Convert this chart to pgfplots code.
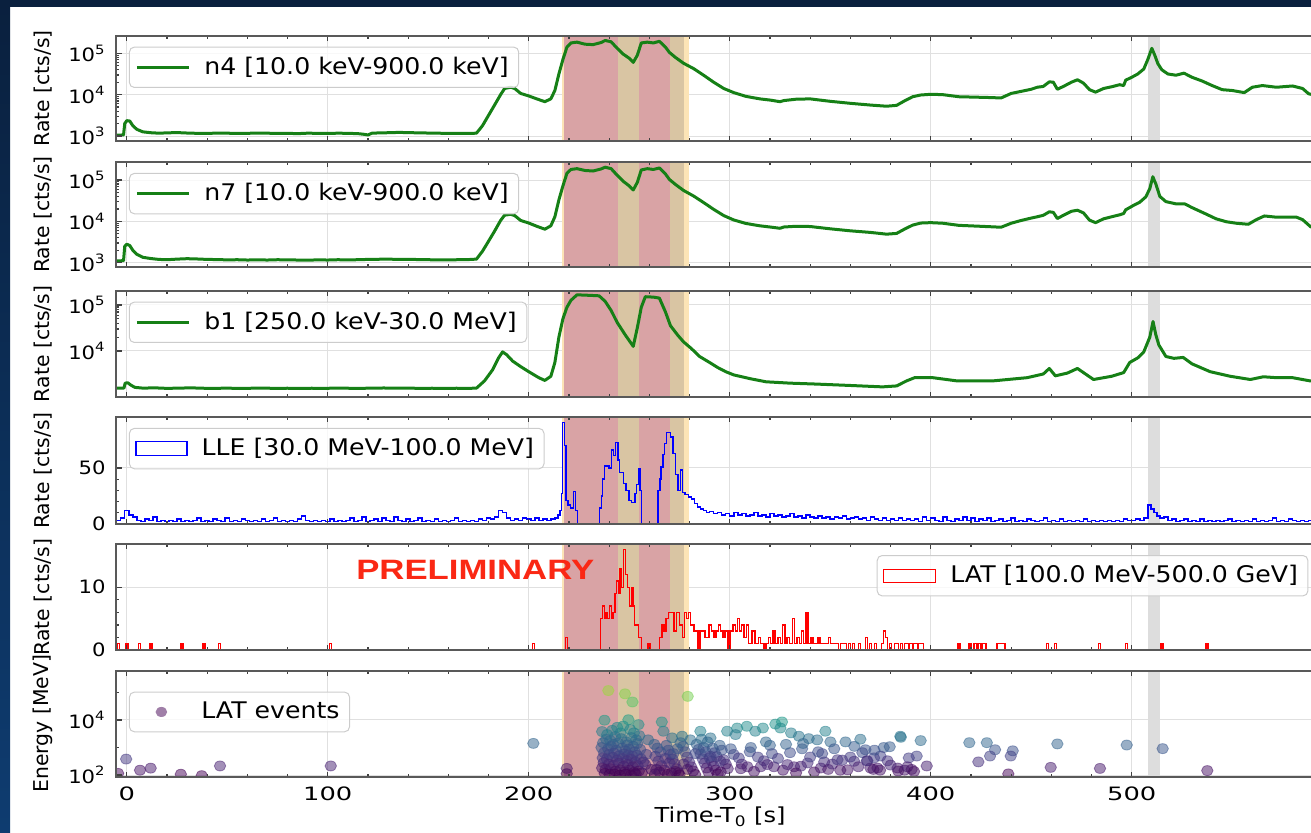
\documentclass[border=0pt]{standalone}
\usepackage{fontspec}
\setmainfont[FakeStretch=1.1]{DejaVu Sans}
\newfontfamily\ylabfont{DejaVu Sans}
\newfontfamily\xtfont[FakeStretch=1.4]{DejaVu Sans}
\newfontfamily\ytfont[FakeStretch=1.15]{DejaVu Sans}
\newfontfamily\xlabfont[FakeStretch=1.17]{DejaVu Sans}
\newfontfamily\prelimfont[FakeStretch=1.24]{Liberation Sans}
\usepackage{pgfplots}
\pgfplotsset{compat=1.18}

\definecolor{navytop}{RGB}{10,32,62}
\definecolor{navybot}{RGB}{14,60,112}
\definecolor{spanorange}{RGB}{252,228,182}
\definecolor{spantan}{RGB}{217,197,163}
\definecolor{spanred}{RGB}{217,163,165}
\definecolor{spangray}{RGB}{221,221,221}
\definecolor{gridc}{RGB}{224,224,224}
\definecolor{lcgreen}{RGB}{22,128,22}
\definecolor{prelim}{RGB}{250,40,20}
\definecolor{evpurple}{RGB}{68,1,84}

\newcommand\fxt{\xtfont\fontsize{9.2}{11}\selectfont}
\newcommand\fyt{\ytfont\fontsize{9.2}{11}\selectfont}
\newcommand\fl{\fontsize{11.45}{13.5}\selectfont}
\newcommand\fx{\xlabfont\fontsize{10.3}{12.3}\selectfont}
\newcommand\fy{\ylabfont\fontsize{10.2}{12}\selectfont}

% grid lines, drawn underneath the shaded intervals
\newcommand\xgrid{\pgfplotsinvokeforeach{0,100,200,300,400,500}{%
  \draw[gridc, line width=0.5pt] ({axis cs:##1,1}|-{rel axis cs:0,0}) -- ({axis cs:##1,1}|-{rel axis cs:0,1});}}
\newcommand\hgrid[1]{\pgfplotsinvokeforeach{#1}{%
  \draw[gridc, line width=0.5pt] ({rel axis cs:0,0}|-{axis cs:0,##1}) -- ({rel axis cs:1,0}|-{axis cs:0,##1});}}

% time intervals shaded in every panel
\newcommand\grbspans{%
  \fill[spanorange] ({axis cs:216.3,1}|-{rel axis cs:0,0}) rectangle ({axis cs:279.5,1}|-{rel axis cs:0,1});
  \fill[spantan] ({axis cs:217.5,1}|-{rel axis cs:0,0}) rectangle ({axis cs:277.3,1}|-{rel axis cs:0,1});
  \fill[spanred] ({axis cs:217.5,1}|-{rel axis cs:0,0}) rectangle ({axis cs:244.6,1}|-{rel axis cs:0,1});
  \fill[spanred] ({axis cs:255,1}|-{rel axis cs:0,0}) rectangle ({axis cs:270.3,1}|-{rel axis cs:0,1});
  \fill[spangray] ({axis cs:508.2,1}|-{rel axis cs:0,0}) rectangle ({axis cs:514.3,1}|-{rel axis cs:0,1});
}

\pgfplotsset{
  panel/.style={
    axis on top,
    scale only axis, width=608.2pt,
    xmin=-5.2, xmax=600,
    xtick={0,100,200,300,400,500},
    minor x tick num=4,
    xticklabels={},
    tick align=inside,
    major tick length=2.6pt, minor tick length=1.5pt,
    tick style={black!75, line width=0.6pt},
    axis line style={black!65, line width=0.9pt},
    ylabel={Rate [cts/s]},
    every axis y label/.style={at={(rel axis cs:0,0.5)}, anchor=center, rotate=90, yshift=36.65pt, font=\fy, inner sep=0pt},
    xticklabel style={font=\fxt, yshift=-1.5pt},
    yticklabel style={font=\fyt, xshift=-1.8pt},
    /pgf/number format/assume math mode=true,
    legend cell align=left,
    legend style={at={(0,1)}, anchor=north west, xshift=6.3pt, yshift=-5.3pt, font=\fl,
      draw=black!20, line width=0.5pt, rounded corners=2.5pt, fill=white, fill opacity=0.8, text opacity=1,
      inner xsep=3pt, inner ysep=3pt, /tikz/every odd column/.append style={column sep=5pt}},
    clip marker paths=true,
  },
  lcline/.style={lcgreen, line width=1.5pt, line join=round,
    legend image code/.code={\draw[lcgreen, line width=1.5pt, sharp corners] (0pt,0pt) -- (26pt,0pt);}},
}

\begin{document}
\begin{tikzpicture}
\shade[top color=navytop, bottom color=navybot] (0,0) rectangle (5pt,416pt);
\fill[navytop] (0,412.3pt) rectangle (655.5pt,416pt);

% ---------------- n4 ----------------
\begin{axis}[panel, at={(58.15pt,345.65pt)}, anchor=south west, height=52.35pt,
  ymode=log, ymin=770, ymax=2.62e5, ytick={1e3,1e4,1e5},
  yticklabels={10\textsuperscript{3},10\textsuperscript{4},10\textsuperscript{5}}]
\xgrid \hgrid{1e3,1e4,1e5}
\grbspans
\addplot[lcline] coordinates {
(-5.2,1050) (-1.6,1060) (-1.0,2000) (0,2350) (1.5,2300) (3,1780) (5,1450) (8,1260) (12,1200) (16,1170) (20,1190) (25,1210) (30,1180) (35,1160) (40,1150) (45,1180) (50,1170) (55,1150) (60,1160) (65,1180) (70,1170) (75,1150) (80,1160) (85,1140) (90,1170) (95,1160) (100,1150) (105,1170) (110,1160) (115,1140) (118,1100) (120,1060) (122,1170) (126,1190) (130,1200) (135,1220) (140,1210) (145,1190) (150,1180) (155,1170) (160,1150) (165,1160) (170,1150) (174,1170) (177,1780) (180,3160) (183,5600) (186,10000) (188,14100) (191,15100) (193,14100) (196,10700) (200,9300) (204,7900) (208,6760) (211,7900) (213,12600) (215,31600) (217,70800) (219,141000) (221,178000) (224,186000) (228,166000) (232,162000) (236,182000) (238,204000) (241,190000) (244,132000) (247,95500) (250,75900) (252,60300) (254,89100) (256,178000) (259,186000) (262,178000) (265,195000) (268,141000) (270,105000) (273,79400) (277,57500) (282,42700) (287,29500) (292,20000) (297,14100) (302,11200) (308,9100) (315,7900) (320,7400) (325,6760) (327,7200) (333,7760) (340,7900) (350,6900) (360,6170) (370,5600) (378,5250) (383,5500) (387,7080) (391,8900) (395,9800) (400,10200) (406,10000) (414,8900) (422,8700) (430,8500) (435,8300) (440,10700) (445,12000) (450,13500) (453,15100) (456,15800) (459,20400) (461,20000) (463,13500) (466,15800) (470,20000) (473,22900) (476,19000) (479,13200) (482,11500) (486,14100) (490,15500) (494,17400) (496,16600) (497,22400) (500,26300) (503,31600) (506,41700) (508,70800) (510,132000) (511.5,89100) (513,56200) (515,39800) (518,31600) (522,29500) (526,33100) (530,26300) (535,21400) (540,16600) (545,13200) (550,12600) (556,11200) (560,15100) (565,16600) (572,15100) (580,16200) (585,14100) (588,10500) (592,9500) (600,9300)
};
\addlegendentry{n4 [10.0 keV-900.0 keV]}
\end{axis}

% ---------------- n7 ----------------
\begin{axis}[panel, at={(58.15pt,282.65pt)}, anchor=south west, height=52.2pt,
  ymode=log, ymin=800, ymax=2.68e5, ytick={1e3,1e4,1e5},
  yticklabels={10\textsuperscript{3},10\textsuperscript{4},10\textsuperscript{5}}]
\xgrid \hgrid{1e3,1e4,1e5}
\grbspans
\addplot[lcline] coordinates {
(-5.2,1100) (-1.6,1120) (-1.0,2500) (0,2800) (1.5,2600) (3,2000) (5,1600) (8,1350) (12,1260) (16,1200) (20,1180) (25,1220) (30,1250) (35,1230) (40,1200) (45,1190) (50,1170) (55,1180) (60,1160) (65,1170) (70,1160) (75,1180) (80,1170) (85,1160) (90,1150) (95,1170) (100,1160) (105,1180) (110,1170) (115,1180) (120,1200) (125,1210) (130,1220) (135,1200) (140,1210) (145,1190) (150,1180) (155,1170) (160,1170) (165,1180) (170,1190) (174,1220) (177,1900) (180,3300) (183,5800) (186,10500) (188,14100) (191,14800) (193,13800) (196,10500) (200,9100) (204,7600) (208,6460) (211,7800) (213,12900) (215,33000) (217,72000) (219,145000) (221,180000) (224,188000) (228,170000) (232,165000) (236,185000) (238,204000) (241,188000) (244,130000) (247,93000) (250,72000) (252,57500) (254,87000) (256,175000) (259,188000) (262,180000) (265,195000) (268,140000) (270,103000) (273,78000) (277,56000) (282,41000) (287,28500) (292,19500) (297,13800) (302,10800) (308,8900) (315,7800) (320,7300) (325,6800) (327,7300) (333,7600) (340,7500) (350,6600) (360,5900) (370,5400) (378,4900) (383,5100) (387,6500) (391,8100) (395,9100) (400,9300) (406,9000) (414,8000) (422,7700) (430,7400) (435,7200) (440,9000) (445,10500) (450,12000) (453,12900) (456,14000) (459,17000) (461,16500) (463,11700) (466,14000) (470,17500) (473,18600) (476,16000) (479,10700) (482,9300) (486,11500) (490,12900) (494,14400) (496,15500) (497,19000) (501,24500) (504,29000) (507,39000) (509,62000) (510.5,120000) (512,80000) (514,40000) (517,30000) (522,26500) (526.5,26300) (530,21500) (537,15000) (542,11500) (547,9800) (552,9000) (558,8500) (562,11000) (566,13500) (572,12600) (582,12600) (585,11000) (589,7400) (594,7000) (600,6800)
};
\addlegendentry{n7 [10.0 keV-900.0 keV]}
\end{axis}

% ---------------- b1 ----------------
\begin{axis}[panel, at={(58.15pt,217.65pt)}, anchor=south west, height=52.85pt,
  ymode=log, ymin=1015, ymax=2.01e5, ytick={1e4,1e5},
  yticklabels={10\textsuperscript{4},10\textsuperscript{5}}]
\xgrid \hgrid{1e4,1e5}
\grbspans
\addplot[lcline] coordinates {
(-5.2,1550) (-1.4,1560) (-0.8,2000) (0.5,2040) (2,1820) (4,1620) (8,1560) (14,1580) (20,1540) (26,1560) (32,1580) (38,1550) (44,1540) (50,1560) (56,1530) (62,1550) (68,1560) (74,1540) (80,1550) (86,1530) (92,1550) (98,1540) (104,1560) (110,1550) (116,1540) (122,1560) (128,1570) (134,1550) (140,1560) (146,1540) (152,1550) (158,1530) (164,1550) (170,1540) (174,1560) (178,2240) (182,3890) (185,7080) (187,9550) (189,8300) (192,6030) (196,4570) (200,3550) (205,2630) (208,2290) (211,2820) (213,5620) (215,20000) (217,50100) (219,89100) (221,126000) (224,166000) (230,162000) (235,158000) (238,120000) (241,75900) (244,41700) (248,22400) (252,12600) (254,31600) (256,89100) (258,151000) (262,148000) (265,141000) (268,70800) (270.5,35500) (274,22400) (277,15800) (281,11200) (285,7590) (290,5620) (294,4370) (298,3550) (302,3020) (310,2510) (318,2140) (330,2000) (343,1910) (360,1780) (376,1660) (383,1740) (388,2240) (392,2630) (401,2630) (413,2240) (431,2240) (448,2630) (456,3160) (459,4170) (462,2880) (468,3310) (473,4170) (477,3160) (481,2400) (490,2820) (496,3390) (499,5620) (503,7080) (506,9550) (509,20000) (510.6,43700) (512,22400) (513.5,13500) (517,7590) (521,6920) (525.6,7240) (530,5250) (539,3550) (549,2820) (559,2400) (565.5,2750) (572,2630) (580,2630) (588.7,2240) (600,2140)
};
\addlegendentry{b1 [250.0 keV-30.0 MeV]}
\end{axis}

% ---------------- LLE ----------------
\begin{axis}[panel, at={(58.15pt,154.15pt)}, anchor=south west, height=53.2pt,
  ymin=0, ymax=95.5, ytick={0,50}, minor y tick num=4]
\xgrid \hgrid{50}
\grbspans
\addplot[blue, line width=0.75pt, const plot mark left,
  legend image code/.code={\draw[blue, line width=0.6pt, sharp corners] (0pt,-3.4pt) rectangle (25.5pt,3.4pt);}] coordinates {
(-5.2,3) (-3,5) (-1,12) (1,8) (3,6) (5,3) (7,2) (9,4) (11,3) (13,6) (15,2) (17,3) (19,2) (21,3) (23,2) (25,4) (27,2) (29,3) (31,2) (33,3) (35,5) (37,2) (39,3) (41,2) (43,4) (45,3) (47,2) (49,5) (51,2) (53,3) (55,2) (57,4) (59,3) (61,2) (63,3) (65,2) (67,4) (69,2) (71,3) (73,5) (75,2) (77,3) (79,2) (81,3) (83,2) (85,4) (87,7) (89,3) (91,2) (93,3) (95,2) (97,3) (99,2) (101,4) (103,2) (105,3) (107,2) (109,3) (111,5) (113,2) (115,3) (117,6) (119,2) (121,3) (123,4) (125,2) (127,5) (129,3) (131,2) (133,6) (135,3) (137,2) (139,4) (141,2) (143,3) (145,5) (147,2) (149,3) (151,2) (153,4) (155,2) (157,3) (159,2) (161,3) (163,5) (165,2) (167,3) (169,2) (171,3) (173,2) (175,4) (177,3) (179,5) (181,4) (183,6) (185,12) (187,10) (189,5) (191,3) (193,4) (195,3) (197,5) (199,4) (201,3) (203,5) (205,3) (207,4) (209,3) (211,4) (213,5) (214.5,8) (215.5,12) (216.2,27) (216.8,91) (217.8,70) (218.6,21) (219.5,17) (220.8,14) (222.3,29) (223.3,12) (224.2,0) (235.2,14) (236.2,25) (236.8,40) (237.6,52) (240,50) (241.2,66) (242.2,61) (243.2,73) (244.3,57) (245.2,46) (247.2,36) (248.5,30) (249.8,21) (251.2,19) (252.8,27) (253.6,35) (254.5,49) (255.4,30) (256.2,0) (264.4,30) (265.2,40) (265.8,51) (266.8,62) (267.5,72) (268.6,82) (270.5,78) (271.8,63) (273,44) (274.3,30) (275.6,48) (276.6,28) (277.8,26) (279.5,24) (281,22) (282.5,18) (284,15) (285.5,13) (287,12) (288.5,10) (290,11) (292,9) (294,10) (296,8) (298,9) (300,7) (302,10) (304,8) (306,9) (308,7) (310,8) (312,10) (314,7) (316,8) (318,6) (320,9) (322,7) (324,8) (326,6) (328,7) (330,9) (332,6) (334,7) (336,5) (338,8) (340,6) (342,5) (344,7) (346,5) (348,6) (350,4) (352,6) (354,5) (356,7) (358,4) (360,5) (362,6) (364,4) (366,5) (368,3) (370,6) (372,4) (374,3) (376,5) (378,3) (380,4) (382,3) (384,5) (386,3) (388,4) (390,3) (392,4) (394,2) (396,6) (398,3) (400,5) (402,3) (404,2) (406,6) (408,3) (410,2) (412,4) (414,3) (416,6) (418,3) (420,5) (422,2) (424,4) (426,3) (428,5) (430,2) (432,3) (434,4) (436,2) (438,3) (440,5) (442,2) (444,3) (446,2) (448,4) (450,3) (452,2) (454,3) (456,5) (458,2) (460,3) (462,2) (464,4) (466,2) (468,3) (470,2) (472,3) (474,2) (476,4) (478,2) (480,3) (482,2) (484,3) (486,2) (488,3) (490,2) (492,3) (494,2) (496,4) (498,3) (500,3) (502,4) (504,3) (506,5) (508,17) (509.5,13) (511,10) (512.5,7) (514,5) (516,6) (518,3) (520,4) (522,2) (524,3) (526,4) (528,2) (530,3) (532,2) (534,4) (536,2) (538,3) (540,2) (542,3) (544,2) (546,3) (548,4) (550,2) (552,3) (554,2) (556,3) (558,2) (560,4) (562,2) (564,3) (566,2) (568,3) (570,5) (572,2) (574,3) (576,2) (578,4) (580,3) (582,2) (584,3) (586,2) (588,3) (590,2) (592,3) (594,2) (596,3) (598,2) (600,2)
};
\addlegendentry{LLE [30.0 MeV-100.0 MeV]}
\end{axis}

% ---------------- LAT rate ----------------
\begin{axis}[panel, at={(58.15pt,91pt)}, anchor=south west, height=53pt,
  ymin=0, ymax=16.9, ytick={0,10}, minor y tick num=4,
  legend style={xshift=373.9pt, yshift=-0.2pt}]
\xgrid \hgrid{10}
\grbspans
\addplot[red, line width=0.7pt, const plot mark left,
  legend image code/.code={\draw[red, line width=0.6pt, sharp corners] (0pt,-3.3pt) rectangle (26pt,3.3pt);}] coordinates {
(-5.2,0) (-4.6,1) (-3.6,0) (-0.4,1) (0.6,0) (5.8,1) (6.8,0) (11.6,1) (12.6,0) (26.9,1) (27.9,0) (38,1) (39,0) (45.5,1) (46.5,0) (100.8,1) (101.8,0) (201.8,1) (202.8,0) (218.4,2) (219.4,0) (235.8,5) (236.8,7) (237.6,5) (238.4,6) (239.2,5) (240.2,7) (241.2,5) (242,6) (243,9) (243.8,11) (244.6,9) (245.4,13) (246.2,10) (247,16) (248,12) (249,10) (250.2,7) (251,10) (251.8,7) (252.6,4) (254.5,2) (256.2,0) (259.4,1) (260.4,0) (265.2,2) (266.2,4) (267.2,3) (268.2,5) (269.6,6) (272.2,3) (273.6,6) (275,4) (276.5,2) (277.5,6) (278.6,5) (279.6,6) (280.6,4) (282.2,3) (284.2,0) (285.2,3) (287.6,2) (289.6,4) (291,3) (292.2,2) (293.2,3) (294.4,4) (295.4,3) (296.6,2) (297.6,3) (299.2,0) (300.2,3) (301.6,4) (302.8,3) (303.8,5) (304.8,3) (305.8,4) (307,2) (308.2,4) (309.2,1) (311,3) (312.6,1) (314.2,2) (315.2,1) (317,0) (318,1) (319.2,2) (320.4,1) (321.6,3) (322.6,1) (324,2) (325.2,1) (326.4,4) (327.4,1) (328.4,2) (329.8,1) (331.2,5) (332.2,1) (333.4,2) (334.6,1) (335.6,3) (336.6,1) (338,6) (339,1) (340.5,2) (341.5,1) (344,2) (345,1) (349,2) (350,1) (354,0) (355,1) (358,0) (359,1) (360,0) (361,1) (362,0) (364,1) (365,0) (367.5,2) (368.5,0) (369.5,1) (370.5,0) (372,1) (373,0) (375.5,1) (376.5,3) (377.5,2) (378.5,0) (379.5,1) (380.5,0) (382,1) (384,0) (385,1) (386,0) (387,1) (389,0) (389.5,1) (391,0) (391.5,1) (393.5,0) (394,1) (396.5,0) (413.5,1) (414.5,0) (419,1) (420,0) (421.5,1) (423,0) (423.5,1) (425,0) (425.5,1) (427.5,0) (433,1) (437,0) (457.5,1) (458.5,0) (461.5,1) (462.5,0) (483.5,1) (484.5,0) (497,1) (498,0) (514.5,1) (515.5,0) (537,1) (538,0) (600,0)
};
\addlegendentry{LAT [100.0 MeV-500.0 GeV]}
\node[text=prelim, font={\prelimfont\bfseries\fontsize{14}{16}\selectfont}, inner sep=0pt] at (axis cs:173.4,12.7) {PRELIMINARY};
\end{axis}

% ---------------- LAT events ----------------
\begin{axis}[panel, at={(58.15pt,27.65pt)}, anchor=south west, height=52.85pt,
  ymode=log, ymin=87, ymax=6e5, ytick={1e2,1e4}, minor ytick={1e3,1e5},
  yticklabels={10\textsuperscript{2},10\textsuperscript{4}},
  xticklabels={0,100,200,300,400,500},
  ylabel={Energy [MeV]},
  xlabel={Time-T\textsubscript{0} [s]},
  every axis x label/.style={at={(rel axis cs:0.4964,0)}, anchor=north, yshift=-15pt, font=\fx, inner sep=0pt},
  colormap/viridis, point meta min=4.605, point meta max=12.9,
  legend style={yshift=-5pt}]
\xgrid \hgrid{1e2,1e4}
\grbspans
\addplot[scatter, only marks, mark=*, mark size=2.5pt, point meta=y,
  scatter/use mapped color={draw=mapped color, fill=mapped color},
  mark options={fill opacity=0.5, draw opacity=0.5, line width=0.4pt, xscale=1.15},
  legend image code/.code={\path[draw=none] (0pt,-3pt) rectangle (26pt,3pt); \fill[evpurple, draw=none, opacity=0.5] (13pt,0pt) ellipse (2.9pt and 2.5pt);}] coordinates {
(-4.3,115) (-0.3,380) (6.6,150) (11.9,178) (26.9,107) (37.3,95) (46.4,214) (101.5,214) (202.3,1410) (218.9,174) (218.9,112)
(239.6,117000) (247.9,89000) (251.6,45000) (279.1,72000)
(237.7,9800) (249.6,10200) (254.6,6800) (244,5400) (239,2950) (245.6,3400) (252.3,3400) (241.5,4200) (247,6000) (250.5,4500) (236.5,3800) (243,2500) (255,2700) (238.5,2000) (240.5,1800) (246,2100) (248.5,1600) (251,2300) (253.5,1900) (237,1500) (242,1300) (244.5,1450) (249,1250) (252,1100) (254,1400) (236.2,1000) (239.5,900) (241,1100) (243.5,800) (246.5,950) (248,750) (250,880) (252.8,700) (255.5,850) (237.5,650) (240,560) (242.5,620) (245,500) (247.5,580) (249.5,530) (251.5,480) (253.8,520) (236.8,420) (238.8,380) (241.8,440) (244,350) (246.8,400) (248.8,330) (251,370) (253,300) (255.8,390) (237.3,280) (239.8,250) (242.2,230) (244.8,270) (247.2,210) (249.2,240) (251.8,200) (254.2,220) (236.5,180) (238.2,160) (240.8,170) (243.2,140) (245.5,155) (247.8,130) (250.2,150) (252.5,125) (254.8,140) (237.8,115) (240.2,105) (242.8,110) (245.2,100) (248.2,108) (250.8,102) (253.2,112) (256.3,120) (258,240) (259.4,1900) (258.5,560) (257,300)
(266.2,8500) (267,3900) (271.3,2240) (276.3,2570) (280.4,1900) (285.4,3900) (290.4,2240) (298.7,3900) (262.5,1300) (264,950) (265.5,700) (263,480) (264.5,320) (266,220) (267.5,150) (262.8,110) (268.5,1200) (269.5,800) (270.5,550) (271.5,380) (272.5,260) (273.5,170) (274.5,120) (268,400) (270,280) (272,600) (274,900) (275.5,1500) (276.8,1100) (277.8,700) (278.8,450) (279.8,300) (280.8,200) (281.8,140) (282.8,105) (277,250) (279,160) (283.5,1300) (284.5,850) (285.5,580) (286.5,390) (287.5,270) (288.5,180) (289.5,125) (283,600) (286,2000) (287,1000) (288,700) (289,1600) (290,420) (291,320) (292,210) (293,150) (294,110) (291.5,950) (292.5,650) (293.5,470) (295,1200) (296,800) (297,360) (298,250) (299,170) (295.5,130) (263.5,160) (265,130) (269,105) (271,118) (273,135) (275,102) (261,160)
(303.7,5100) (302.9,2950) (308.5,5900) (312.7,3900) (316.5,5100) (322.7,7100) (326,8500) (325.2,5100) (330.5,3400) (334.4,2570) (339.3,2100) (343.5,1900) (347.6,3900) (350.1,1600) (357.6,1600) (367.5,830) (376.6,1000) (384.9,2570) (389.1,420) (290.4,480) (295.4,316) (300.5,900) (302,560) (304.5,420) (306,250) (305.5,170) (308.8,200) (310,700) (312.1,135) (314,450) (315.4,200) (317,330) (318.7,240) (320,1200) (321,600) (322,200) (324,400) (326.5,150) (328.7,240) (330,650) (332,200) (333,120) (335.4,210) (336,900) (338.7,275) (340,450) (342,130) (344,700) (345.3,180) (347,300) (349,160) (351,250) (353.6,360) (355,150) (358.6,155) (360,450) (361.9,316) (364,200) (366,650) (368.5,330) (370,180) (371.8,420) (373.5,180) (375,490) (378.5,330) (379.6,1070) (383.5,180) (383.8,140) (385.1,2340) (387,150) (388.4,200) (390.5,160) (391.7,135) (393,490) (395,1780) (398,214) (368.2,330) (371.5,160) (374.8,150) (380,230) (310.5,1000) (318,1600) (328,1300) (336.5,1400) (346,600) (352,900) (356,350) (362,1100) (365,2000) (372,800)
(419.2,1500) (427.9,1500) (432,830) (429.5,490) (423.7,300) (440.8,760) (439.8,490) (438.6,110) (463,1350) (459.7,190) (484.2,174) (497.5,1230) (515.4,910) (537.6,145)
};
\addlegendentry{LAT events}
\end{axis}
\pgfresetboundingbox
\useasboundingbox (0,0) rectangle (655.5pt,416pt);
\end{tikzpicture}
\end{document}
